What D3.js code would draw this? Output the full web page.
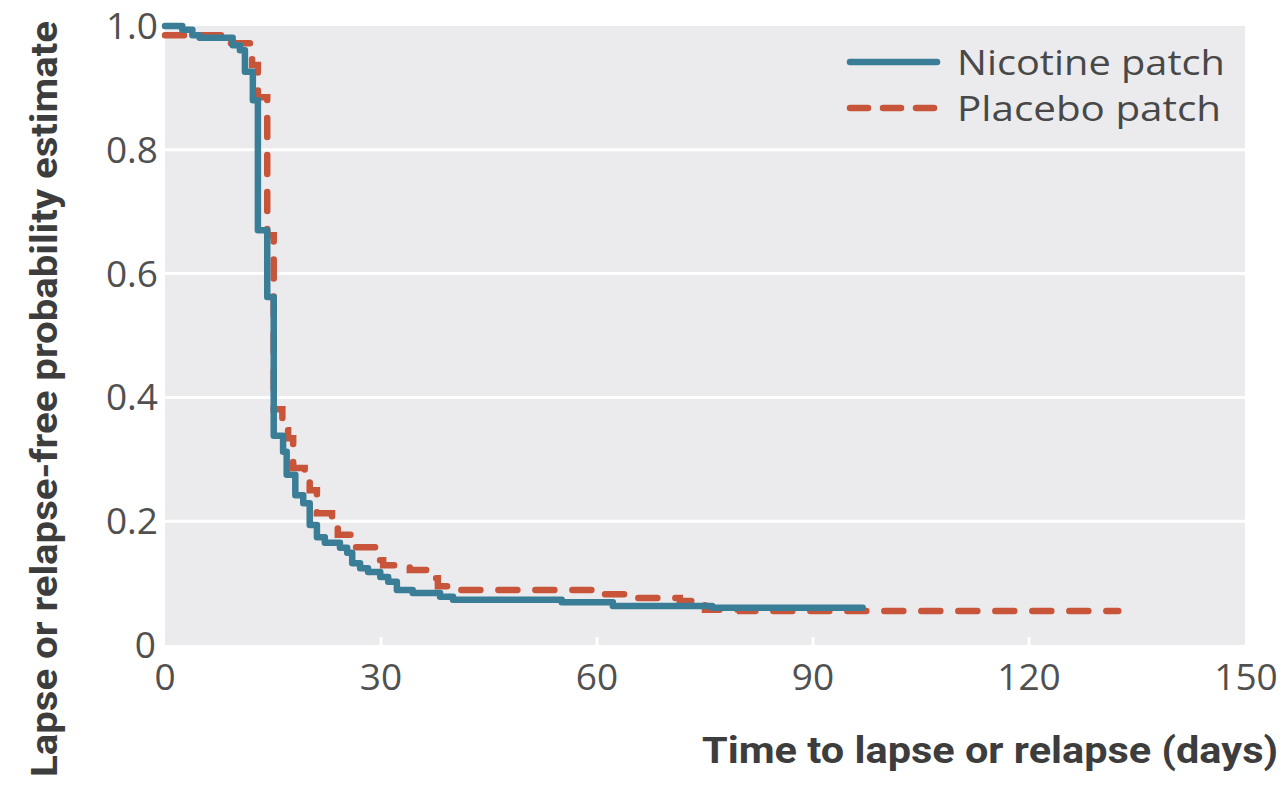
<!DOCTYPE html>
<html>
<head>
<meta charset="utf-8">
<script src="https://cdn.jsdelivr.net/npm/d3@7"></script>
<style>
  body { margin: 0; background: #fff; }
  text { font-family: "Open Sans", "Noto Sans", sans-serif; }
</style>
</head>
<body>
<div id="chart"></div>
<script>
// Kaplan-Meier steps: day the step happens, survival after it
var nicotineDays = [0, 2.4, 3.8, 4.8, 9.4, 10.4, 11.1, 12.2, 12.9, 14.2, 15.1, 16.4, 16.9, 18.1, 19.2,
  20.1, 21.1, 22.2, 24.3, 25.3, 26.0, 27.1, 28.2, 29.9, 31.0, 32.2, 34.4, 38.2, 40.0, 55.1, 62.2, 76.0];
var nicotineSurv = [1.0, 0.994, 0.985, 0.981, 0.969, 0.961, 0.926, 0.880, 0.670, 0.562, 0.338, 0.312, 0.275, 0.242, 0.229,
  0.194, 0.174, 0.165, 0.157, 0.149, 0.132, 0.124, 0.118, 0.110, 0.102, 0.089, 0.084, 0.078, 0.073, 0.069, 0.063, 0.060];
var nicotineEnd = 96.9;

var placeboDays = [0, 8.6, 12.1, 12.9, 14.2, 15.1, 16.3, 17.1, 17.8, 19.4, 20.1, 21.1, 23.2, 24.0, 26.0,
  29.4, 30.3, 34.0, 36.8, 37.9, 41.0, 60.0, 64.6, 71.5, 75.0, 79.9];
var placeboSurv = [0.985, 0.972, 0.937, 0.885, 0.662, 0.381, 0.347, 0.334, 0.286, 0.263, 0.250, 0.213, 0.189, 0.178, 0.158,
  0.137, 0.129, 0.121, 0.108, 0.095, 0.089, 0.082, 0.076, 0.071, 0.057, 0.055];
var placeboEnd = 132.4;

var xTicks = [0, 30, 60, 90, 120, 150];
var yTicks = [0, 0.2, 0.4, 0.6, 0.8, 1.0];
var seriesNames = ["Nicotine patch", "Placebo patch"];

var W = 1286, H = 797;
var margin = { top: 26, right: 41, bottom: 152, left: 165 };

var svg = d3.select("#chart").append("svg")
  .attr("width", W)
  .attr("height", H);

var x = d3.scaleLinear().domain([0, 150]).range([margin.left, W - margin.right]);
var y = d3.scaleLinear().domain([0, 1]).range([H - margin.bottom, margin.top]);

// grey panel
svg.append("rect")
  .attr("x", x(0)).attr("y", y(1))
  .attr("width", x(150) - x(0))
  .attr("height", y(0) - y(1))
  .attr("fill", "#ebebed");

// white horizontal gridlines
svg.append("g").selectAll("line")
  .data(yTicks.filter(function (d) { return d > 0 && d < 1; }))
  .enter().append("line")
  .attr("x1", x(0)).attr("x2", x(150))
  .attr("y1", function (d) { return y(d); })
  .attr("y2", function (d) { return y(d); })
  .attr("stroke", "#fff")
  .attr("stroke-width", 3);

// little white ticks on the bottom of the panel
svg.append("g").selectAll("line")
  .data(xTicks.filter(function (d) { return d > 0 && d < 150; }))
  .enter().append("line")
  .attr("x1", function (d) { return x(d); })
  .attr("x2", function (d) { return x(d); })
  .attr("y1", y(0)).attr("y2", y(0) - 8)
  .attr("stroke", "#fff")
  .attr("stroke-width", 3);

// y tick labels
svg.append("g").selectAll("text")
  .data(yTicks)
  .enter().append("text")
  .attr("x", function (d) { return d === 0 ? 156 : 158; })
  .attr("y", function (d) { return y(d) + 13; })
  .attr("text-anchor", "end")
  .style("font-size", "37px")
  .style("fill", "#505050")
  .text(function (d) { return d === 0 ? "0" : d3.format(".1f")(d); });

// x tick labels
svg.append("g").selectAll("text")
  .data(xTicks)
  .enter().append("text")
  .attr("x", function (d) { return d === 150 ? x(d) + 1 : x(d); })
  .attr("y", 690)
  .attr("text-anchor", "middle")
  .style("font-size", "37px")
  .style("fill", "#505050")
  .text(function (d) { return d; });

// axis titles
svg.append("text")
  .attr("x", 1278)
  .attr("y", 763)
  .attr("text-anchor", "end")
  .attr("textLength", 576)
  .attr("lengthAdjust", "spacingAndGlyphs")
  .style("font-family", "Roboto, sans-serif")
  .style("font-size", "36px")
  .style("font-weight", 700)
  .style("fill", "#3d3d3d")
  .text("Time to lapse or relapse (days)");

svg.append("text")
  .attr("transform", "translate(57,399) rotate(-90)")
  .attr("text-anchor", "middle")
  .attr("textLength", 756)
  .attr("lengthAdjust", "spacingAndGlyphs")
  .style("font-family", "Roboto, sans-serif")
  .style("font-size", "36px")
  .style("font-weight", 700)
  .style("fill", "#3d3d3d")
  .text("Lapse or relapse-free probability estimate");

// step curves
var line = d3.line()
  .x(function (d) { return x(d[0]); })
  .y(function (d) { return y(d[1]); })
  .curve(d3.curveStepAfter);

function steps(days, surv, end) {
  var pts = days.map(function (d, i) { return [d, surv[i]]; });
  pts.push([end, surv[surv.length - 1]]);
  return pts;
}

var colors = ["#3a7d96", "#c8553a"];

svg.append("path")
  .datum(steps(placeboDays, placeboSurv, placeboEnd))
  .attr("d", line)
  .attr("fill", "none")
  .attr("stroke", colors[1])
  .attr("stroke-width", 6.5)
  .attr("stroke-linecap", "round")
  .attr("stroke-dasharray", "19,18");

svg.append("path")
  .datum(steps(nicotineDays, nicotineSurv, nicotineEnd))
  .attr("d", line)
  .attr("fill", "none")
  .attr("stroke", colors[0])
  .attr("stroke-width", 6.5)
  .attr("stroke-linecap", "round")
  .attr("stroke-linejoin", "round");

// legend
var legend = svg.append("g").selectAll("g")
  .data(seriesNames)
  .enter().append("g")
  .attr("transform", function (d, i) { return "translate(0," + (62 + i * 46) + ")"; });

legend.append("line")
  .attr("x1", 850).attr("x2", 937)
  .attr("stroke", function (d, i) { return colors[i]; })
  .attr("stroke-width", 6.5)
  .attr("stroke-linecap", "round")
  .attr("stroke-dasharray", function (d, i) { return i ? "18,15" : null; });

legend.append("text")
  .attr("x", 957)
  .attr("y", 13)
  .attr("textLength", function (d, i) { return i ? 264 : 268; })
  .attr("lengthAdjust", "spacingAndGlyphs")
  .style("font-size", "35px")
  .style("fill", "#484848")
  .text(function (d) { return d; });
</script>
</body>
</html>
